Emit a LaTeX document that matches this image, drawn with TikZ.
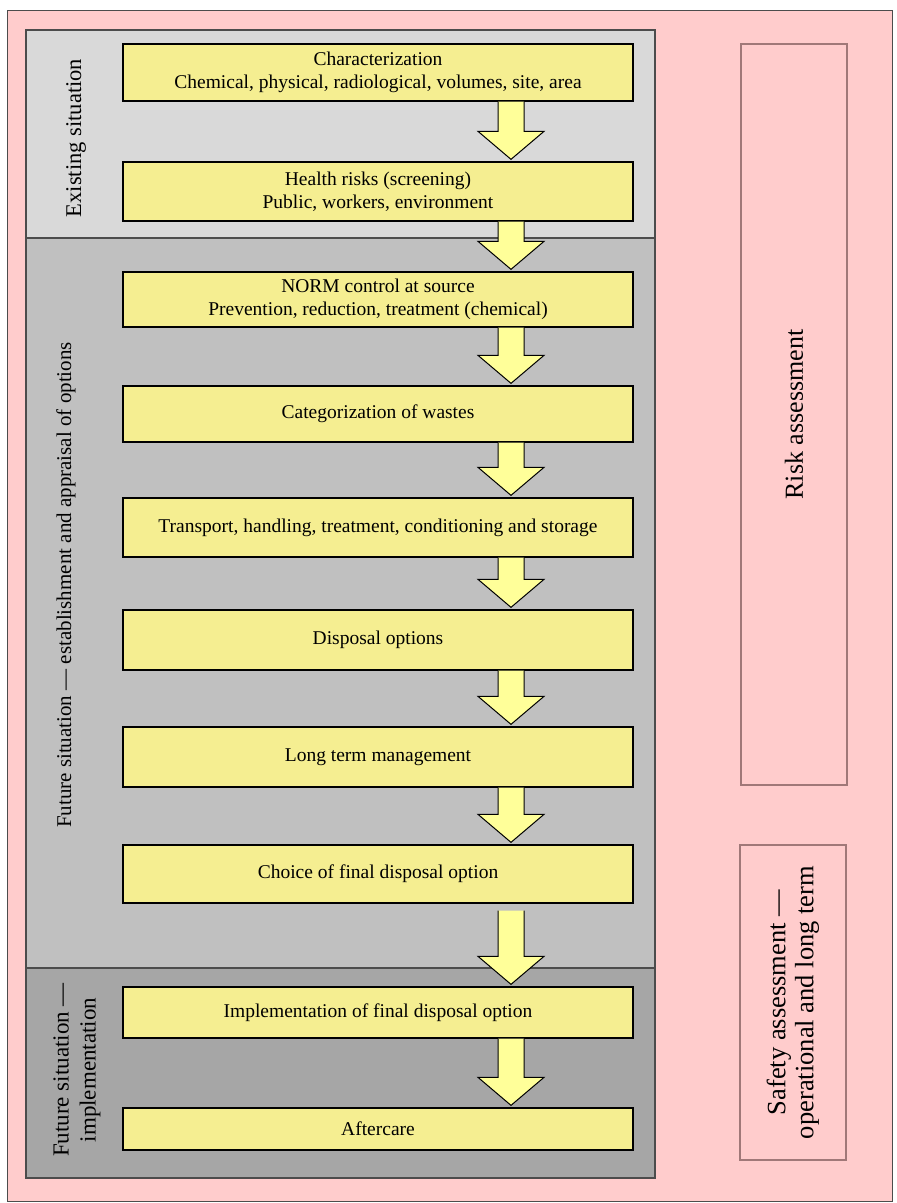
\documentclass[tikz,border=0pt]{standalone}
\usepackage{fontspec}
\setmainfont{Liberation Serif}
\usepackage{tikz}
\usepackage{xcolor}
\usetikzlibrary{calc}

\definecolor{pinkback}{RGB}{255,204,204}
\definecolor{greylight}{RGB}{217,217,217}
\definecolor{greymid}{RGB}{192,192,192}
\definecolor{greydark}{RGB}{166,166,166}
\definecolor{boxyellow}{RGB}{245,238,145}
\definecolor{arrowyellow}{RGB}{255,255,153}
\definecolor{mauve}{RGB}{160,120,120}

\tikzstyle{stage} = [rectangle, draw=black, line width=1.3pt, fill=boxyellow, minimum width=510pt, inner sep=0pt, align=center, font=\fontsize{19.5}{22.5}\selectfont]
\tikzstyle{phase} = [rotate=90, align=center, font=\fontsize{21}{27}\selectfont]
\tikzstyle{assess} = [rectangle, draw=mauve, line width=1.2pt, minimum width=106pt, inner sep=0pt]
\tikzstyle{blockarrow} = [draw=black, line width=1pt, fill=arrowyellow, line join=miter]

% block arrow from box #2 down to box #3, #1 = gap below #2
\newcommand{\flowarrow}[3][0]{%
  \draw[blockarrow] ($(#2.south -| axis)+(-13,#1)$) -- ($(#3.north -| axis)+(-13,-30)$)
    -- ($(#3.north -| axis)+(-33,-30)$) -- ($(#3.north -| axis)+(0,-2)$)
    -- ($(#3.north -| axis)+(33,-30)$) -- ($(#3.north -| axis)+(13,-30)$)
    -- ($(#2.south -| axis)+(13,#1)$);}

\begin{document}
\begin{tikzpicture}[x=1pt,y=-1pt]
  \useasboundingbox (0,0) rectangle (897,1203);
  % background panels
  \draw[fill=pinkback, draw=black!70, line width=1pt] (7,10) rectangle (892,1201);
  \fill[greylight] (26,30) rectangle (655,238);
  \fill[greymid] (26,238) rectangle (655,968);
  \fill[greydark] (26,968) rectangle (655,1178);
  \draw[black!70, line width=1.2pt] (26,238) -- (655,238);
  \draw[black!70, line width=1.2pt] (26,968) -- (655,968);
  \draw[black!70, line width=1.2pt] (26,30) rectangle (655,1178);
  \coordinate (axis) at (511,0);

  % phase labels
  \node[phase, font=\fontsize{22.5}{27}\selectfont] (existing) at (76,138) {Existing situation};
  \node[phase] (appraisal) at (66,585) {Future situation --- establishment and appraisal of options};
  \node[phase, font=\fontsize{23}{27}\selectfont] (implement) at (77,1070) {Future situation ---\\implementation};

  % stages
  \node[stage, minimum height=57pt] (charac) at (378,72.5) {Characterization\\Chemical, physical, radiological, volumes, site, area};
  \node[stage, minimum height=59pt] (health) at (378,191.5) {Health risks (screening)\\Public, workers, environment};
  \node[stage, minimum height=55pt] (norm) at (378,299.5) {NORM control at source\\Prevention, reduction, treatment (chemical)};
  \node[stage, minimum height=56pt] (categ) at (378,414) {Categorization of wastes};
  \node[stage, minimum height=59pt] (transp) at (378,527.5) {Transport, handling, treatment, conditioning and storage};
  \node[stage, minimum height=60pt] (dispos) at (378,640) {Disposal options};
  \node[stage, minimum height=60pt] (longterm) at (378,757) {Long term management};
  \node[stage, minimum height=58pt] (choice) at (378,874) {Choice of final disposal option};
  \node[stage, minimum height=51pt] (implem) at (378,1012.5) {Implementation of final disposal option};
  \node[stage, minimum height=42pt] (after) at (378,1129) {Aftercare};

  % assessments
  \node[assess, minimum height=741pt] (risk) at (794,414.5) {};
  \node[phase, font=\fontsize{26}{28}\selectfont] (risklabel) at (risk) {Risk assessment};
  \node[assess, minimum height=315pt] (safety) at (793,1002.5) {};
  \node[phase, font=\fontsize{26.5}{28}\selectfont] (safetylabel) at (safety) {Safety assessment ---\\operational and long term};

  % arrows
  \flowarrow{charac}{health}
  \flowarrow{health}{norm}
  \flowarrow{norm}{categ}
  \flowarrow{categ}{transp}
  \flowarrow{transp}{dispos}
  \flowarrow{dispos}{longterm}
  \flowarrow{longterm}{choice}
  \flowarrow[7]{choice}{implem}
  \flowarrow{implem}{after}
\end{tikzpicture}
\end{document}
